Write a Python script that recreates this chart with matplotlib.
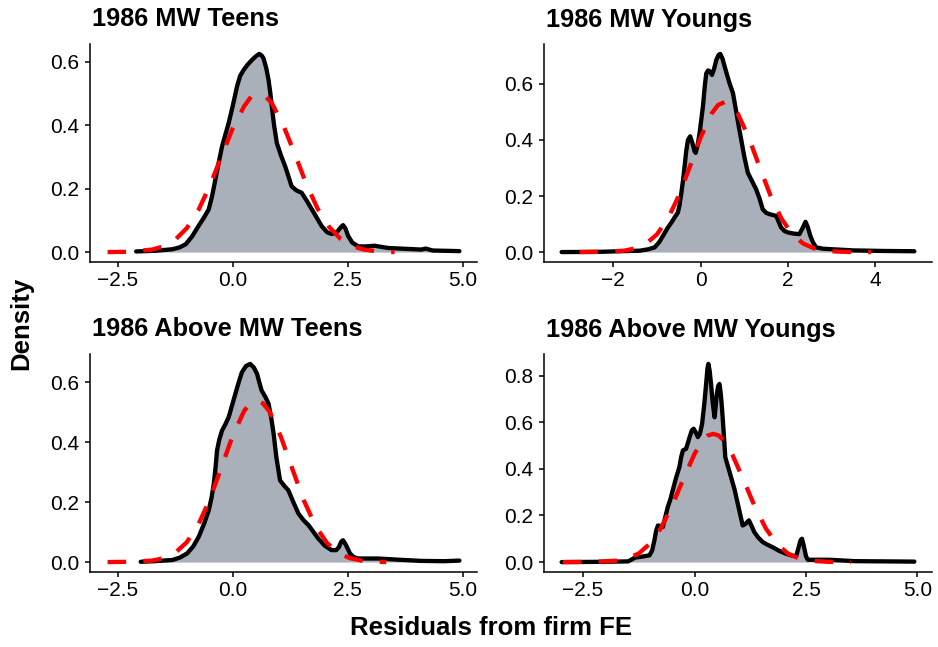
import matplotlib
matplotlib.use("Agg")
import matplotlib.pyplot as plt
import numpy as np

plt.rcParams['font.family'] = ['Liberation Sans', 'DejaVu Sans']

# ---------------- data ----------------
titles = ["1986 MW Teens", "1986 MW Youngs", "1986 Above MW Teens", "1986 Above MW Youngs"]

# Panel 1: 1986 MW Teens
p1_dens_x = [-2.10, -1.70, -1.31, -1.15, -1.02, -0.88, -0.74, -0.62, -0.52, -0.45, -0.375, -0.30, -0.23,
             -0.16, -0.087, 0.00, 0.094, 0.16, 0.24, 0.33, 0.42, 0.50, 0.577, 0.63, 0.67, 0.73, 0.78,
             0.82, 0.85, 0.90, 0.96, 1.05, 1.14, 1.21, 1.28, 1.38, 1.50, 1.61, 1.72, 1.83, 1.93, 2.05,
             2.15, 2.23, 2.29, 2.36, 2.40, 2.45, 2.51, 2.60, 2.73, 2.90, 3.09, 3.25, 3.38, 3.80, 4.10,
             4.20, 4.35, 4.93]
p1_dens_y = [0.002, 0.004, 0.009, 0.015, 0.025, 0.050, 0.083, 0.110, 0.135, 0.175, 0.230, 0.285, 0.334,
             0.370, 0.407, 0.460, 0.522, 0.555, 0.575, 0.592, 0.606, 0.617, 0.625, 0.620, 0.611, 0.580,
             0.543, 0.500, 0.460, 0.400, 0.344, 0.305, 0.271, 0.240, 0.208, 0.195, 0.187, 0.162, 0.135,
             0.108, 0.083, 0.063, 0.057, 0.060, 0.067, 0.080, 0.085, 0.075, 0.051, 0.030, 0.018, 0.018,
             0.020, 0.016, 0.013, 0.010, 0.008, 0.011, 0.005, 0.003]
p1_norm_x = [-2.72, -2.25, -1.75, -1.50, -1.25, -1.00, -0.75, -0.50, -0.25, 0.00, 0.25, 0.40, 0.56,
             0.72, 0.85, 1.10, 1.35, 1.60, 1.85, 2.10, 2.35, 2.60, 2.85, 3.10, 3.52]
p1_norm_y = [0.000, 0.001, 0.008, 0.018, 0.039, 0.075, 0.131, 0.208, 0.300, 0.390, 0.460, 0.490, 0.500,
             0.490, 0.470, 0.400, 0.310, 0.215, 0.136, 0.079, 0.041, 0.019, 0.008, 0.003, 0.000]

# Panel 2: 1986 MW Youngs
p2_dens_x = [-3.18, -2.30, -1.39, -1.20, -1.05, -0.95, -0.86, -0.76, -0.67, -0.59, -0.52, -0.48, -0.44,
             -0.40, -0.366, -0.33, -0.29, -0.24, -0.19, -0.14, -0.114, -0.07, -0.023, 0.053, 0.10, 0.13,
             0.17, 0.21, 0.26, 0.31, 0.36, 0.41, 0.45, 0.50, 0.55, 0.60, 0.66, 0.74, 0.82, 0.87, 0.93,
             1.00, 1.08, 1.17, 1.27, 1.35, 1.42, 1.50, 1.58, 1.66, 1.73, 1.78, 1.84, 1.92, 2.00, 2.13,
             2.26, 2.33, 2.40, 2.45, 2.51, 2.57, 2.64, 2.80, 3.02, 3.50, 4.20, 4.89]
p2_dens_y = [0.000, 0.001, 0.005, 0.010, 0.017, 0.035, 0.058, 0.085, 0.105, 0.125, 0.141, 0.170, 0.212,
             0.260, 0.307, 0.360, 0.400, 0.413, 0.390, 0.360, 0.354, 0.380, 0.425, 0.520, 0.600, 0.638,
             0.648, 0.645, 0.632, 0.655, 0.686, 0.703, 0.707, 0.690, 0.662, 0.635, 0.603, 0.567, 0.496,
             0.450, 0.400, 0.340, 0.283, 0.255, 0.224, 0.190, 0.153, 0.140, 0.135, 0.132, 0.129, 0.110,
             0.088, 0.075, 0.070, 0.066, 0.064, 0.085, 0.108, 0.090, 0.058, 0.035, 0.017, 0.012, 0.010,
             0.006, 0.004, 0.003]
p2_norm_x = [-2.77, -2.25, -1.75, -1.50, -1.25, -1.00, -0.75, -0.50, -0.25, 0.00, 0.25, 0.40, 0.55,
             0.70, 0.85, 1.10, 1.35, 1.60, 1.85, 2.10, 2.35, 2.60, 2.85, 3.10, 3.50, 3.90]
p2_norm_y = [0.000, 0.001, 0.005, 0.013, 0.030, 0.063, 0.119, 0.201, 0.303, 0.409, 0.494, 0.525, 0.535,
             0.525, 0.494, 0.409, 0.303, 0.201, 0.119, 0.063, 0.030, 0.013, 0.005, 0.002, 0.000, 0.000]

# Panel 3: 1986 Above MW Teens
p3_dens_x = [-2.00, -1.70, -1.31, -1.15, -0.99, -0.86, -0.74, -0.63, -0.52, -0.46, -0.41, -0.37, -0.34,
             -0.29, -0.23, -0.16, -0.087, -0.02, 0.058, 0.13, 0.20, 0.29, 0.38, 0.46, 0.53, 0.58, 0.63,
             0.71, 0.78, 0.84, 0.89, 0.95, 1.03, 1.12, 1.21, 1.32, 1.43, 1.54, 1.65, 1.76, 1.86, 2.00,
             2.15, 2.25, 2.31, 2.36, 2.40, 2.46, 2.55, 2.63, 2.73, 3.16, 3.60, 4.10, 4.60, 4.93]
p3_dens_y = [0.001, 0.003, 0.007, 0.015, 0.029, 0.052, 0.084, 0.125, 0.173, 0.215, 0.262, 0.320, 0.373,
             0.410, 0.440, 0.460, 0.484, 0.520, 0.562, 0.600, 0.634, 0.655, 0.662, 0.650, 0.629, 0.600,
             0.573, 0.552, 0.529, 0.480, 0.429, 0.350, 0.273, 0.255, 0.240, 0.200, 0.162, 0.140, 0.123,
             0.100, 0.079, 0.055, 0.040, 0.040, 0.050, 0.068, 0.073, 0.058, 0.029, 0.017, 0.012, 0.012,
             0.008, 0.004, 0.003, 0.005]
p3_norm_x = [-2.72, -2.25, -1.75, -1.50, -1.25, -1.00, -0.75, -0.50, -0.25, 0.00, 0.25, 0.38, 0.52,
             0.66, 0.80, 1.05, 1.30, 1.55, 1.80, 2.05, 2.30, 2.55, 2.80, 3.05, 3.34]
p3_norm_y = [0.000, 0.001, 0.005, 0.013, 0.031, 0.066, 0.124, 0.209, 0.314, 0.422, 0.505, 0.530, 0.540,
             0.530, 0.503, 0.418, 0.310, 0.205, 0.121, 0.064, 0.030, 0.013, 0.005, 0.002, 0.000]

# Panel 4: 1986 Above MW Youngs
p4_dens_x = [-2.98, -2.20, -1.49, -1.40, -1.34, -1.16, -1.01, -0.95, -0.90, -0.86, -0.82, -0.76, -0.71,
             -0.66, -0.60, -0.54, -0.49, -0.41, -0.34, -0.30, -0.26, -0.19, -0.15, -0.11, -0.06, -0.02,
             0.03, 0.075, 0.12, 0.17, 0.22, 0.26, 0.29, 0.31, 0.34, 0.37, 0.41, 0.45, 0.48, 0.50, 0.53,
             0.56, 0.59, 0.62, 0.66, 0.69, 0.75, 0.82, 0.90, 0.97, 1.03, 1.08, 1.15, 1.22, 1.28, 1.34,
             1.43, 1.53, 1.64, 1.75, 1.90, 2.05, 2.20, 2.28, 2.33, 2.38, 2.41, 2.45, 2.50, 2.54, 3.02,
             3.60, 4.30, 4.93]
p4_dens_y = [0.000, 0.001, 0.003, 0.012, 0.019, 0.024, 0.029, 0.050, 0.093, 0.135, 0.157, 0.155, 0.150,
             0.190, 0.236, 0.270, 0.307, 0.364, 0.407, 0.450, 0.479, 0.486, 0.510, 0.536, 0.565, 0.572,
             0.555, 0.536, 0.550, 0.593, 0.680, 0.764, 0.830, 0.850, 0.820, 0.764, 0.680, 0.621, 0.680,
             0.720, 0.755, 0.764, 0.720, 0.650, 0.540, 0.450, 0.410, 0.364, 0.310, 0.250, 0.200, 0.157,
             0.165, 0.179, 0.155, 0.129, 0.105, 0.086, 0.074, 0.064, 0.048, 0.036, 0.027, 0.026, 0.060,
             0.095, 0.100, 0.070, 0.025, 0.010, 0.010, 0.004, 0.003, 0.002]
p4_norm_x = [-2.95, -2.25, -1.75, -1.50, -1.25, -1.00, -0.75, -0.50, -0.25, 0.00, 0.20, 0.30, 0.42,
             0.54, 0.65, 0.85, 1.10, 1.35, 1.60, 1.85, 2.10, 2.35, 2.60, 3.00, 3.51]
p4_norm_y = [0.000, 0.001, 0.006, 0.016, 0.037, 0.079, 0.147, 0.243, 0.357, 0.464, 0.525, 0.543, 0.550,
             0.543, 0.523, 0.460, 0.352, 0.239, 0.144, 0.077, 0.036, 0.015, 0.006, 0.001, 0.000]

x_ticks = [[-2.5, 0.0, 2.5, 5.0], [-2, 0, 2, 4], [-2.5, 0.0, 2.5, 5.0], [-2.5, 0.0, 2.5, 5.0]]
x_ticklabels = [["\u22122.5", "0.0", "2.5", "5.0"], ["\u22122", "0", "2", "4"],
                ["\u22122.5", "0.0", "2.5", "5.0"], ["\u22122.5", "0.0", "2.5", "5.0"]]
y_ticks = [[0.0, 0.2, 0.4, 0.6], [0.0, 0.2, 0.4, 0.6], [0.0, 0.2, 0.4, 0.6], [0.0, 0.2, 0.4, 0.6, 0.8]]

panels = [
    (p1_dens_x, p1_dens_y, p1_norm_x, p1_norm_y),
    (p2_dens_x, p2_dens_y, p2_norm_x, p2_norm_y),
    (p3_dens_x, p3_dens_y, p3_norm_x, p3_norm_y),
    (p4_dens_x, p4_dens_y, p4_norm_x, p4_norm_y),
]

# ---------------- layout ----------------
W, H = 938, 647
fig = plt.figure(figsize=(W / 100, H / 100), dpi=100)

# pixel boxes: (left, right, top, bottom)
boxes = [(90, 477, 44, 262), (544, 932, 44, 262), (90, 477, 354, 572), (544, 932, 354, 572)]

fill_col = "#A9B0BA"

for i, (box, (dx, dy, nx, ny)) in enumerate(zip(boxes, panels)):
    l, r, t, b = box
    ax = fig.add_axes([l / W, 1 - b / H, (r - l) / W, (b - t) / H])
    ax.fill_between(dx, 0, dy, color=fill_col, linewidth=0, zorder=1)
    ax.plot(dx, dy, color="black", lw=3.1, solid_capstyle="round", solid_joinstyle="round", zorder=2)
    ax.plot(nx, ny, color="#FF0000", lw=3.1, linestyle=(0, (4.3, 4.0)), dash_capstyle="butt", zorder=3)

    xmin = min(min(dx), min(nx)); xmax = max(max(dx), max(nx))
    ymin = 0.0; ymax = max(max(dy), max(ny))
    xr = xmax - xmin; yr = ymax - ymin
    ax.set_xlim(xmin - 0.05 * xr, xmax + 0.05 * xr)
    ax.set_ylim(ymin - 0.05 * yr, ymax + 0.05 * yr)

    ax.set_xticks(x_ticks[i])
    ax.set_xticklabels(x_ticklabels[i])
    ax.set_yticks(y_ticks[i])
    ax.set_yticklabels([f"{v:.1f}" for v in y_ticks[i]])

    for s in ["top", "right"]:
        ax.spines[s].set_visible(False)
    for s in ["left", "bottom"]:
        ax.spines[s].set_linewidth(1.1)
        ax.spines[s].set_color("black")
    ax.tick_params(axis="both", direction="out", length=3.4, width=1.1, color="black",
                   labelsize=15, labelcolor="black")
    ax.tick_params(axis="x", pad=3)
    ax.tick_params(axis="y", pad=4.5)
    ax.patch.set_alpha(0)

    fig.text(l / W + 0.002, 1 - (t - 17.5) / H, titles[i], fontsize=18.3, fontweight="bold",
             ha="left", va="baseline")

fig.text(491 / W, 1 - 635 / H, "Residuals from firm FE", fontsize=18.5, fontweight="bold",
         ha="center", va="baseline")
fig.text(21.5 / W, 1 - 323 / H, "Density", fontsize=18.5, fontweight="bold",
         ha="center", va="center", rotation=90)

fig.savefig("out.png", dpi=100)
